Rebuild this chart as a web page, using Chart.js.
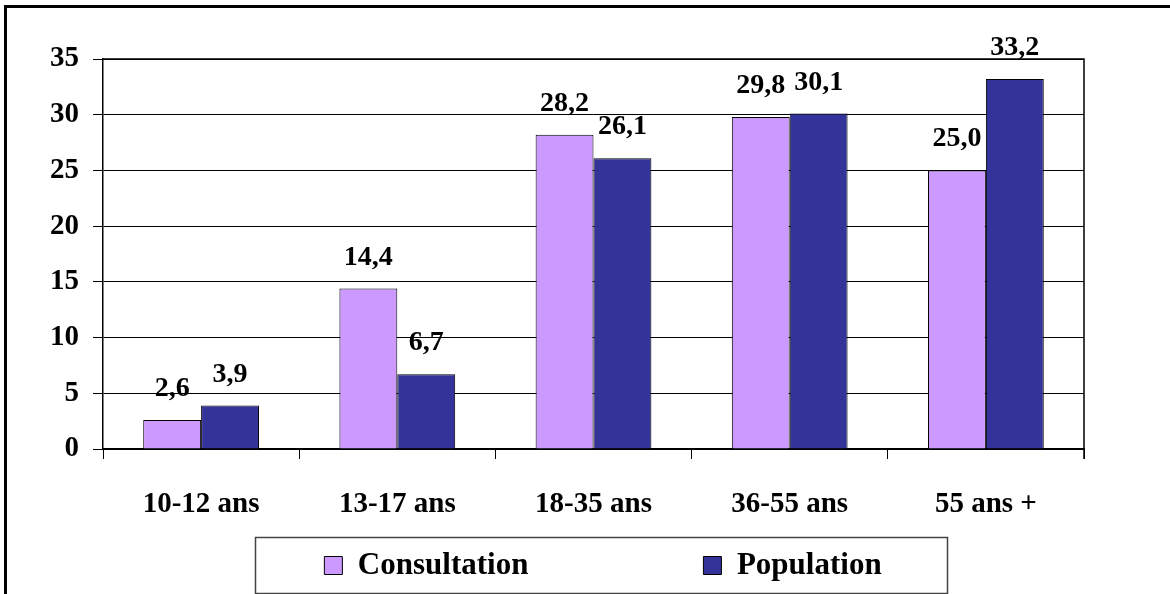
<!DOCTYPE html>
<html><head><meta charset="utf-8">
<script src="https://cdn.jsdelivr.net/npm/chart.js@4/dist/chart.umd.min.js"></script>
<style>html,body{margin:0;padding:0;background:#fff;overflow:hidden}</style>
</head><body>
<canvas id="c" width="1170" height="594" style="display:block;width:1170px;height:594px"></canvas>
<script>
const categories = ['10-12 ans', '13-17 ans', '18-35 ans', '36-55 ans', '55 ans +'];
const consultation = [2.6, 14.4, 28.2, 29.8, 25.0];
const population = [3.9, 6.7, 26.1, 30.1, 33.2];
const seriesNames = ['Consultation', 'Population'];
const yTickValues = [0, 5, 10, 15, 20, 25, 30, 35];

const FONT = "'Liberation Serif', 'Times New Roman', serif";
const LEG_PAD = 175;

const decor = {
  id: 'decor',
  afterLayout(chart) {
    const lg = chart.legend;
    if (lg) {
      const cx = 603;
      lg.left = cx - 500;
      lg.right = cx + 500;
      lg.width = 1000;
      lg.top = 550 - LEG_PAD;
    }
  },
  beforeDraw(chart) {
    const ctx = chart.ctx;
    ctx.save();
    ctx.fillStyle = '#fff';
    ctx.fillRect(0, 0, chart.width, chart.height);
    ctx.restore();
  },
  afterDraw(chart) {
    const ctx = chart.ctx;
    const a = chart.chartArea;
    ctx.save();
    ctx.strokeStyle = '#000';
    ctx.lineWidth = 3;
    ctx.beginPath();
    ctx.moveTo(5.5, 600);
    ctx.lineTo(5.5, 6.5);
    ctx.lineTo(1175, 6.5);
    ctx.stroke();
    ctx.lineWidth = 1.5;
    ctx.beginPath();
    ctx.moveTo(a.left, a.top);
    ctx.lineTo(a.right, a.top);
    ctx.lineTo(a.right, a.bottom + 10);
    ctx.stroke();
    ctx.strokeStyle = '#444';
    ctx.lineWidth = 1.5;
    ctx.strokeRect(255.5, 537.5, 692, 56);
    ctx.restore();
  },
  afterDatasetsDraw(chart) {
    const ctx = chart.ctx;
    ctx.save();
    ctx.font = "bold 28px " + FONT;
    ctx.fillStyle = '#000';
    ctx.textAlign = 'center';
    ctx.textBaseline = 'alphabetic';
    chart.data.datasets.forEach((ds, di) => {
      const meta = chart.getDatasetMeta(di);
      meta.data.forEach((el, i) => {
        const txt = ds.data[i].toFixed(1).replace('.', ',');
        ctx.fillText(txt, el.x, el.y - 24);
      });
    });
    ctx.restore();
  }
};

new Chart(document.getElementById('c'), {
  type: 'bar',
  data: {
    labels: categories,
    datasets: [
      { label: seriesNames[0], data: consultation, backgroundColor: '#CC99FF', borderColor: '#000', borderWidth: 1, categoryPercentage: 0.59, barPercentage: 1.0 },
      { label: seriesNames[1], data: population, backgroundColor: '#333399', borderColor: '#000', borderWidth: 1, categoryPercentage: 0.59, barPercentage: 1.0 }
    ]
  },
  options: {
    responsive: false,
    animation: false,
    devicePixelRatio: 1,
    layout: { padding: { top: 59, right: 86, left: 0, bottom: 0 } },
    plugins: {
      tooltip: { enabled: false },
      legend: {
        position: 'bottom',
        maxHeight: 57,
        labels: {
          boxWidth: 18, boxHeight: 18, padding: LEG_PAD, color: '#000',
          font: { family: FONT, size: 31, weight: 'bold' }
        }
      }
    },
    scales: {
      x: {
        afterFit(scale) { scale.height = 88; },
        grid: { display: true, drawOnChartArea: false, drawTicks: true, tickLength: 10, color: '#000', offset: true },
        border: { display: true, color: '#000', width: 1.5 },
        ticks: { color: '#000', padding: 28, font: { family: FONT, size: 29, weight: 'bold' }, maxRotation: 0 }
      },
      y: {
        min: 0, max: 35,
        afterFit(scale) { scale.width = 103; },
        afterBuildTicks(scale) { scale.ticks = yTickValues.map(v => ({ value: v })); },
        grid: { color: '#000', lineWidth: 1, drawTicks: true, tickLength: 10 },
        border: { display: true, color: '#000', width: 1.5 },
        ticks: { color: '#000', padding: 14, font: { family: FONT, size: 29, weight: 'bold' } }
      }
    }
  },
  plugins: [decor]
});
</script>
</body></html>
